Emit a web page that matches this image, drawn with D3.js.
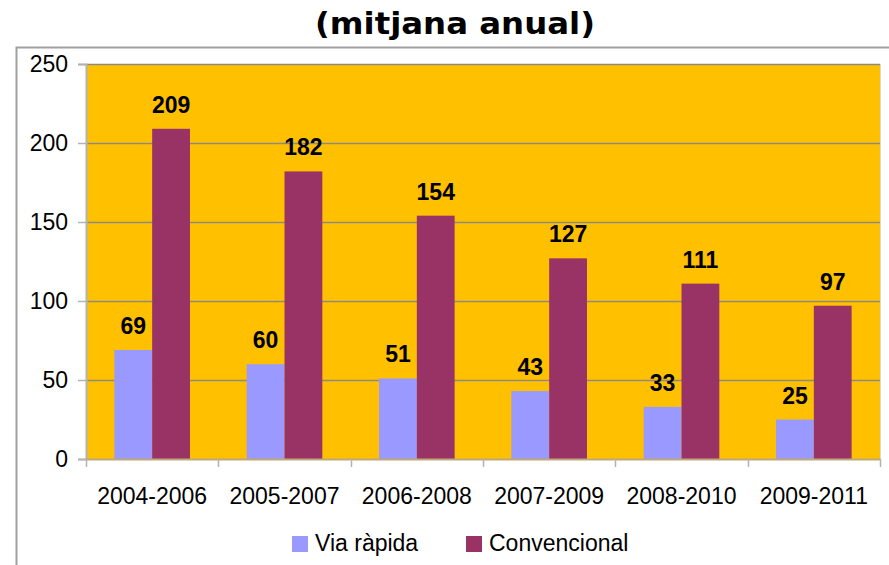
<!DOCTYPE html>
<html>
<head>
<meta charset="utf-8">
<script src="https://cdn.jsdelivr.net/npm/d3@7"></script>
<style>
  body { margin: 0; background: #fff; }
  svg { display: block; }
</style>
</head>
<body>
<div id="chart"></div>
<script>
const categories = ["2004-2006", "2005-2007", "2006-2008", "2007-2009", "2008-2010", "2009-2011"];
const seriesNames = ["Via ràpida", "Convencional"];
const viaRapida = [69, 60, 51, 43, 33, 25];
const convencional = [209, 182, 154, 127, 111, 97];
const yTicks = [0, 50, 100, 150, 200, 250];
const colors = ["#9999ff", "#993366"];

const width = 889, height = 565;
const plot = { left: 86, right: 880, top: 64, bottom: 459 };

const svg = d3.select("#chart").append("svg")
    .attr("width", width)
    .attr("height", height);

// outer chart frame (cut off on the right and bottom)
svg.append("path")
    .attr("d", `M16.5,${height + 2} V47.5 H${width + 2}`)
    .attr("fill", "none")
    .attr("stroke", "#a0a0a0")
    .attr("stroke-width", 2);

// title
svg.append("text")
    .attr("x", 455)
    .attr("y", 34)
    .attr("text-anchor", "middle")
    .attr("textLength", 280)
    .attr("lengthAdjust", "spacingAndGlyphs")
    .style("font-family", "DejaVu Sans")
    .style("font-weight", "bold")
    .style("font-size", "30px")
    .text("(mitjana anual)");

const x = d3.scaleBand()
    .domain(categories)
    .range([plot.left, plot.right])
    .padding(0);

const x1 = d3.scaleBand()
    .domain(seriesNames)
    .range([0, x.bandwidth()])
    .paddingInner(0)
    .paddingOuter(0.75);

const y = d3.scaleLinear()
    .domain([0, 250])
    .range([plot.bottom, plot.top]);

// plot background
svg.append("rect")
    .attr("x", plot.left)
    .attr("y", plot.top)
    .attr("width", plot.right - plot.left)
    .attr("height", plot.bottom - plot.top)
    .attr("fill", "#ffc000");

// right edge of plot area
svg.append("line")
    .attr("x1", plot.right + 0.5).attr("x2", plot.right + 0.5)
    .attr("y1", plot.top).attr("y2", plot.bottom)
    .attr("stroke", "#d9d9d9");

// gridlines
svg.append("g")
    .selectAll("line")
    .data(yTicks.slice(1))
    .enter().append("line")
    .attr("x1", plot.left)
    .attr("x2", plot.right)
    .attr("y1", d => Math.round(y(d)) + 0.5)
    .attr("y2", d => Math.round(y(d)) + 0.5)
    .attr("stroke", "#8f8a80")
    .attr("stroke-width", 1.5);

// y axis
const yAxis = svg.append("g")
    .attr("transform", `translate(${plot.left},0)`)
    .call(d3.axisLeft(y).tickValues(yTicks).tickSize(8).tickPadding(10));
yAxis.select(".domain").attr("stroke", "#b3b3b3").attr("stroke-width", 2);
yAxis.selectAll(".tick line").attr("stroke", "#b3b3b3").attr("stroke-width", 1.5);
yAxis.selectAll("text")
    .style("font-family", "Liberation Sans, Arial, sans-serif")
    .style("font-size", "23px")
    .attr("fill", "#000");

// bars
const bars = [viaRapida, convencional];
seriesNames.forEach((s, i) => {
    svg.append("g")
        .selectAll("rect")
        .data(bars[i])
        .enter().append("rect")
        .attr("x", (d, j) => x(categories[j]) + x1(s))
        .attr("y", d => y(d))
        .attr("width", x1.bandwidth())
        .attr("height", d => y(0) - y(d))
        .attr("fill", colors[i]);

    svg.append("g")
        .selectAll("text")
        .data(bars[i])
        .enter().append("text")
        .attr("x", (d, j) => x(categories[j]) + x1(s) + x1.bandwidth() / 2)
        .attr("y", d => y(d) - 16)
        .attr("text-anchor", "middle")
        .style("font-family", "Liberation Sans, Arial, sans-serif")
        .style("font-weight", "bold")
        .style("font-size", "23px")
        .text(d => d);
});

// x axis
const xAxis = svg.append("g")
    .attr("transform", `translate(0,${plot.bottom})`)
    .call(d3.axisBottom(x).tickSize(0).tickPadding(29));
xAxis.select(".domain").attr("stroke", "#c0a878").attr("stroke-width", 2);
xAxis.selectAll("text")
    .style("font-family", "Liberation Sans, Arial, sans-serif")
    .style("font-size", "23px")
    .attr("fill", "#000");

// category separator ticks
const sepTicks = categories.map(c => x(c)).concat([plot.right]);
svg.append("g")
    .selectAll("line")
    .data(sepTicks)
    .enter().append("line")
    .attr("x1", d => Math.round(d) + 0.5)
    .attr("x2", d => Math.round(d) + 0.5)
    .attr("y1", plot.bottom)
    .attr("y2", plot.bottom + 8)
    .attr("stroke", "#b3b3b3")
    .attr("stroke-width", 1.5);

// legend
const legendX = [292, 466];
const legend = svg.append("g");
seriesNames.forEach((s, i) => {
    legend.append("rect")
        .attr("x", legendX[i])
        .attr("y", 536)
        .attr("width", 16)
        .attr("height", 16)
        .attr("fill", colors[i]);
    legend.append("text")
        .attr("x", legendX[i] + 23)
        .attr("y", 551)
        .style("font-family", "Liberation Sans, Arial, sans-serif")
        .style("font-size", "23px")
        .text(s);
});
</script>
</body>
</html>
